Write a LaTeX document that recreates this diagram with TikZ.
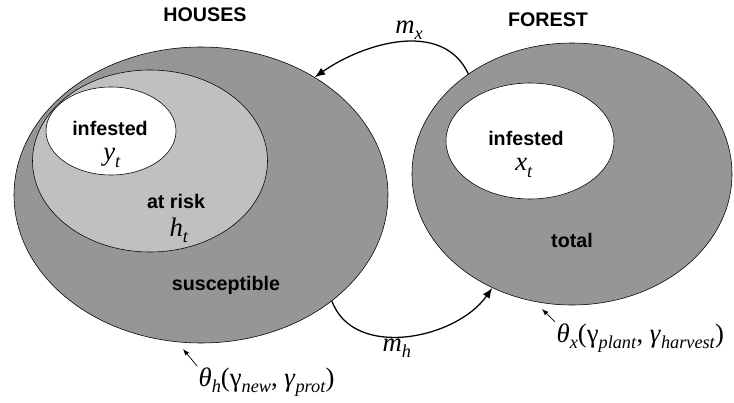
\documentclass[tikz,border=0pt]{standalone}
\usepackage{fontspec}
\setmainfont{Liberation Serif}
\setsansfont{Liberation Sans}
\usepackage{tikz}
\usetikzlibrary{arrows.meta,positioning,shapes.geometric}

\definecolor{darkpop}{RGB}{150,150,150}
\definecolor{lightpop}{RGB}{192,192,192}

\newcommand{\tsub}[2]{#1\raisebox{-0.5ex}{\fontsize{13}{13}\selectfont\textit{#2}}}
\newcommand{\msub}[2]{\tsub{\textit{#1}}{#2}}

\begin{document}
\begin{tikzpicture}[
    pool/.style={ellipse, draw=black, line width=0.4pt, inner sep=0pt},
    word/.style={font=\sffamily\bfseries\fontsize{14}{16}\selectfont},
    sym/.style={font=\rmfamily\fontsize{19}{22}\selectfont, inner sep=1pt},
    flow/.style={line width=0.9pt, -{Latex[length=2.6mm,width=2mm]}},
    hint/.style={line width=0.5pt, -{Latex[length=1.6mm,width=1.2mm]}}
  ]
  \useasboundingbox (0,0) rectangle (18.35,-10.075);

  % Haeuser
  \node[pool, fill=darkpop, minimum width=9.35cm, minimum height=7.4cm] (houses) at (5.025,-4.875) {};
  \node[pool, fill=lightpop, minimum width=5.875cm, minimum height=4.55cm] (risk) at (3.75,-4.025) {};
  \node[pool, fill=white, minimum width=3.25cm, minimum height=2.2cm] (hinf) at (2.775,-3.275) {};
  \node[word] (houseslbl) at (5.125,-0.375) {HOUSES};
  \node[word] (hinflbl) at (2.75,-3.2) {infested};
  \node[sym] (yt) at (2.8,-3.95) {\msub{y}{t}};
  \node[word] (risklbl) at (4.4,-5.025) {at risk};
  \node[sym] (ht) at (4.475,-5.75) {\msub{h}{t}};
  \node[word] (susclbl) at (5.65,-7.125) {susceptible};

  % Wald
  \node[pool, fill=darkpop, minimum width=8.0cm, minimum height=6.55cm] (forest) at (14.3,-4.35) {};
  \node[pool, fill=white, minimum width=4.2cm, minimum height=2.9cm] (xinf) at (13.25,-3.525) {};
  \node[word] (forestlbl) at (13.7,-0.5) {FOREST};
  \node[word] (xinflbl) at (13.15,-3.45) {infested};
  \node[sym] (xt) at (13.1,-4.2) {\msub{x}{t}};
  \node[word] (totallbl) at (14.3,-6.0) {total};

  % Wanderung
  \draw[flow] (forest.136) to[out=115,in=35] node[sym, above, pos=0.45] (mx) {\msub{m}{x}} (houses.46);
  \draw[flow] (houses.-39) to[out=-70,in=-125] node[sym, below, pos=0.45] (mh) {\msub{m}{h}} (forest.235);

  % Parameter
  \node[sym, anchor=west] (thetah) at (4.925,-9.55) {\msub{θ}{h}(\tsub{γ}{new}, \msub{γ}{prot})};
  \node[sym, anchor=west] (thetax) at (13.875,-8.45) {\msub{θ}{x}(\tsub{γ}{plant}, \msub{γ}{harvest})};
  \coordinate (hmark) at (4.575,-8.725);
  \coordinate (xmark) at (13.55,-7.725);
  \draw[hint] (thetah.north west) -- (hmark);
  \draw[hint] (thetax.north west) -- (xmark);
\end{tikzpicture}
\end{document}
